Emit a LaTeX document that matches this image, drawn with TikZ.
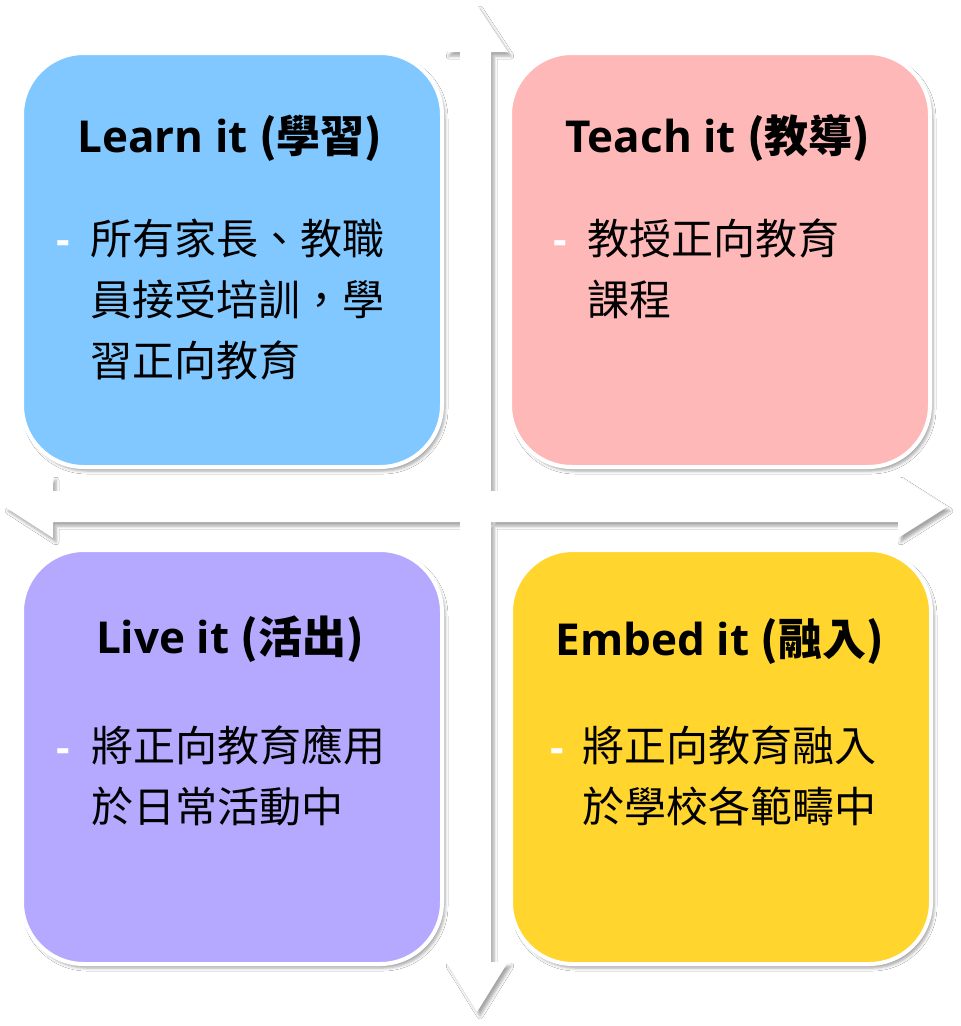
\documentclass[tikz,border=0pt]{standalone}
\usepackage{fontspec}
\setmainfont{Open Sans}
\newfontfamily\cjk{Noto Sans CJK TC}
\usetikzlibrary{shadows.blur}
\definecolor{learnc}{RGB}{128,200,255}
\definecolor{teachc}{RGB}{255,184,184}
\definecolor{livec}{RGB}{181,168,255}
\definecolor{embedc}{RGB}{255,213,46}
\newcommand{\hd}[2]{#1 {\cjk(#2)}}

\begin{document}
\begin{tikzpicture}[x=1pt,y=-1pt]
  \tikzset{sh/.style={blur shadow={shadow xshift=3pt,shadow yshift=-4pt,shadow blur radius=3pt,shadow opacity=35}},
           quad/.style={sh,draw=white,line width=4pt,rounded corners=62pt,minimum width=420pt,minimum height=414pt,inner sep=0pt},
           title/.style={anchor=base,inner sep=0pt,font=\fontsize{44}{52}\selectfont\bfseries},
           body/.style={anchor=base west,inner sep=0pt,align=left,font=\cjk\fontsize{42}{61}\selectfont},
           hyph/.style={anchor=base west,inner sep=0pt,text=white,font=\fontsize{42}{61}\selectfont\bfseries}}
  \useasboundingbox[fill=white] (0,0) rectangle (961,1026);
  % cross of arrows
  \path[sh,fill=white] (5,507) -- (53,476) -- (53,491) -- (898,491) -- (898,476) -- (947,507) -- (898,538) -- (898,522) -- (53,522) -- (53,538) -- cycle
        (477,5) -- (508,52) -- (491,52) -- (491,962) -- (508,962) -- (477,1012) -- (446,962) -- (460,962) -- (460,52) -- (446,52) -- cycle;
  \node[quad,fill=learnc] (Learn) at (232,260) {};
  \node[quad,fill=teachc] (Teach) at (720,260) {};
  \node[quad,fill=livec]  (Live)  at (232,757) {};
  \node[quad,fill=embedc] (Embed) at (721,757) {};
  \node[title] (LearnT) at (230,152) {\hd{Learn it}{學習}};
  \node[title] (TeachT) at (718,152) {\hd{Teach it}{教導}};
  \node[title] (LiveT)  at (230,653) {\hd{Live it}{活出}};
  \node[title] (EmbedT) at (720,655) {\hd{Embed it}{融入}};
  \node[hyph] (LearnD) at (56,254) {-};
  \node[hyph] (TeachD) at (553,254) {-};
  \node[hyph] (LiveD)  at (56,762) {-};
  \node[hyph] (EmbedD) at (550,762) {-};
  % base of a wrapped node is its last line
  \node[body] (LearnB) at (90,376) {所有家長、教職\\員接受培訓，學\\習正向教育};
  \node[body] (TeachB) at (587,315) {教授正向教育\\課程};
  \node[body] (LiveB)  at (91,822) {將正向教育應用\\於日常活動中};
  \node[body] (EmbedB) at (582,822) {將正向教育融入\\於學校各範疇中};
\end{tikzpicture}
\end{document}
